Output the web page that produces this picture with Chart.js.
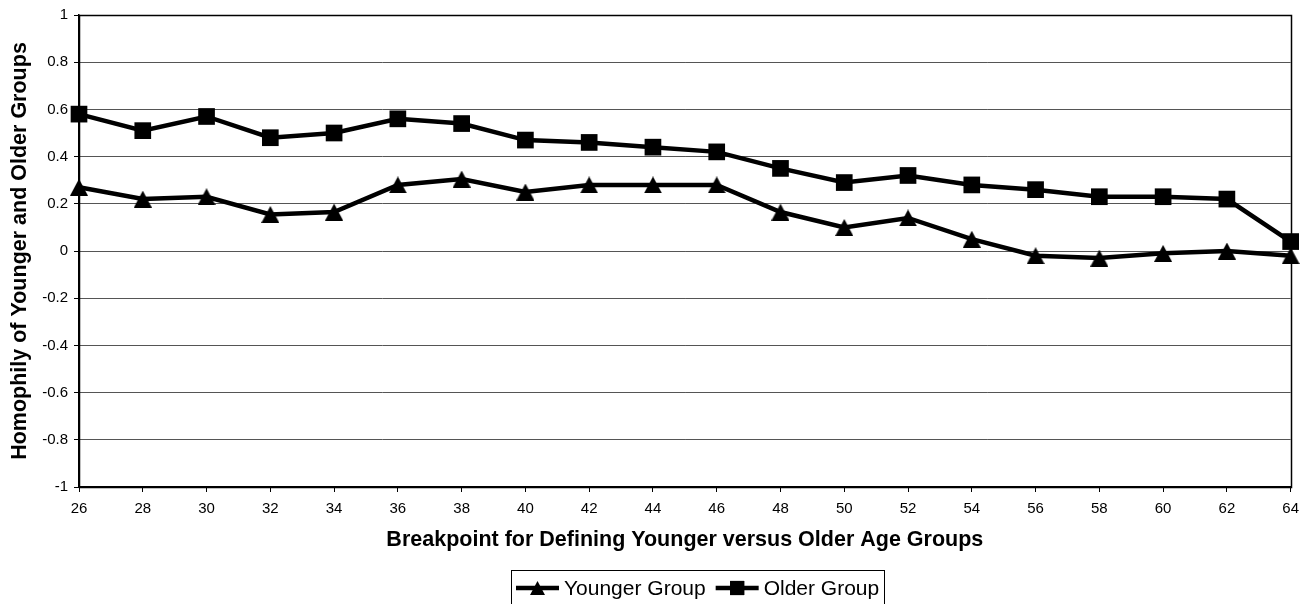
<!DOCTYPE html>
<html>
<head>
<meta charset="utf-8">
<title>Homophily by age breakpoint</title>
<script src="https://cdn.jsdelivr.net/npm/chart.js@4/dist/chart.umd.min.js"></script>
<style>
  html, body { margin: 0; padding: 0; background: #ffffff; }
  #wrap { width: 1307px; height: 604px; }
</style>
</head>
<body>
<div id="wrap"><canvas id="chart" width="1307" height="604"></canvas></div>
<script>
// Breakpoint ages on the horizontal axis
const breakpoints = ['26', '28', '30', '32', '34', '36', '38', '40', '42', '44',
                     '46', '48', '50', '52', '54', '56', '58', '60', '62', '64'];

// Homophily of the group below the breakpoint
const youngerGroup = [0.27, 0.22, 0.23, 0.155, 0.165, 0.28, 0.305, 0.25, 0.28, 0.28,
                      0.28, 0.165, 0.10, 0.14, 0.05, -0.02, -0.03, -0.01, 0.00, -0.02];

// Homophily of the group at or above the breakpoint
const olderGroup = [0.58, 0.51, 0.57, 0.48, 0.50, 0.56, 0.54, 0.47, 0.46, 0.44,
                    0.42, 0.35, 0.29, 0.32, 0.28, 0.26, 0.23, 0.23, 0.22, 0.04];

const seriesNames = ['Younger Group', 'Older Group'];

const FONT = '"Liberation Sans", Arial, sans-serif';

// Triangle marker whose bounding box is centred on the data point
function triangleMarker(w, h) {
  const c = document.createElement('canvas');
  c.width = w;
  c.height = h;
  const g = c.getContext('2d');
  g.fillStyle = '#000000';
  g.beginPath();
  g.moveTo(w / 2, 0);
  g.lineTo(w, h);
  g.lineTo(0, h);
  g.closePath();
  g.fill();
  return c;
}

const seriesMarkers = [triangleMarker(18, 17), 'rect'];
const legendMarkers = [triangleMarker(15, 14), 'rect'];
const seriesMarkerRadius = [9, 11.8];

// Box around the plotting area (top and right edges are not drawn by the axes)
const plotFrame = {
  id: 'plotFrame',
  beforeDatasetsDraw(chart) {
    const { ctx, chartArea: a } = chart;
    ctx.save();
    ctx.strokeStyle = '#000000';
    ctx.lineWidth = 1.5;
    ctx.strokeRect(Math.round(a.left) + 0.5, Math.round(a.top) + 0.5,
                   Math.round(a.right - a.left), Math.round(a.bottom - a.top));
    ctx.restore();
  }
};

// Framed legend with a line-and-marker sample for each series
const framedLegend = {
  id: 'framedLegend',
  afterDraw(chart) {
    const { ctx, chartArea: a } = chart;
    const fontSize = 21;
    const sampleW = 43, gapAfterSample = 5, gapBetween = 10, padX = 5, boxH = 34;
    ctx.save();
    ctx.font = fontSize + 'px ' + FONT;
    const widths = seriesNames.map(n => ctx.measureText(n).width);
    let total = padX * 2;
    widths.forEach((w, i) => { total += sampleW + gapAfterSample + w + (i < widths.length - 1 ? gapBetween : 0); });
    const cx = (a.left + a.right) / 2 + 13;
    const left = Math.round(cx - total / 2);
    const top = chart.height - boxH;
    const midY = top + 18;

    ctx.strokeStyle = '#000000';
    ctx.lineWidth = 1;
    ctx.strokeRect(left + 0.5, top + 0.5, Math.round(total), boxH);

    let x = left + padX;
    chart.data.datasets.forEach((ds, i) => {
      ctx.strokeStyle = ds.borderColor;
      ctx.lineWidth = ds.borderWidth;
      ctx.beginPath();
      ctx.moveTo(x, midY);
      ctx.lineTo(x + sampleW, midY);
      ctx.stroke();
      ctx.fillStyle = '#000000';
      ctx.beginPath();
      Chart.helpers.drawPoint(ctx, {
        pointStyle: legendMarkers[i],
        radius: 10,
        rotation: 0,
        borderWidth: 0
      }, x + sampleW / 2, midY);
      ctx.fill();
      x += sampleW + gapAfterSample;
      ctx.fillStyle = '#000000';
      ctx.textBaseline = 'middle';
      ctx.textAlign = 'left';
      ctx.fillText(seriesNames[i], x, midY + 1);
      x += widths[i] + gapBetween;
    });
    ctx.restore();
  }
};

const datasets = [youngerGroup, olderGroup].map((values, i) => ({
  label: seriesNames[i],
  data: values,
  borderColor: '#000000',
  backgroundColor: '#000000',
  borderWidth: 4.5,
  tension: 0,
  pointStyle: seriesMarkers[i],
  pointRadius: seriesMarkerRadius[i],
  pointHoverRadius: seriesMarkerRadius[i],
  pointBackgroundColor: '#000000',
  pointBorderColor: '#000000',
  pointBorderWidth: 0,
  clip: false
}));

new Chart(document.getElementById('chart'), {
  type: 'line',
  data: { labels: breakpoints, datasets },
  plugins: [plotFrame, framedLegend],
  options: {
    responsive: false,
    animation: false,
    events: [],
    layout: { padding: { left: 0, top: 15, right: 16, bottom: 40 } },
    plugins: {
      legend: { display: false },
      tooltip: { enabled: false }
    },
    scales: {
      x: {
        type: 'category',
        offset: false,
        afterFit(scale) { scale.height = 77; },
        grid: {
          display: true,
          drawOnChartArea: false,
          drawTicks: true,
          tickLength: 5,
          tickColor: '#000000',
          color: '#000000'
        },
        border: { display: true, color: '#000000', width: 1.5 },
        ticks: {
          color: '#000000',
          font: { family: FONT, size: 15 },
          padding: 8,
          maxRotation: 0,
          autoSkip: false
        },
        title: {
          display: true,
          text: 'Breakpoint for Defining Younger versus Older Age Groups',
          color: '#000000',
          font: { family: FONT, size: 21.5, weight: 'bold' },
          padding: { top: 0, bottom: 11 }
        }
      },
      y: {
        min: -1,
        max: 1,
        afterFit(scale) { scale.width = 79; },
        grid: {
          display: true,
          drawOnChartArea: true,
          drawTicks: true,
          tickLength: 5,
          color: '#555555',
          tickColor: '#000000',
          lineWidth: 1
        },
        border: { display: true, color: '#000000', width: 1.5 },
        ticks: {
          stepSize: 0.2,
          color: '#000000',
          font: { family: FONT, size: 15 },
          padding: 6,
          callback: v => String(Number(v.toFixed(1)))
        },
        title: {
          display: true,
          text: 'Homophily of Younger and Older Groups',
          color: '#000000',
          font: { family: FONT, size: 21.5, weight: 'bold' },
          padding: { top: 7, bottom: 0 }
        }
      }
    }
  }
});
</script>
</body>
</html>
